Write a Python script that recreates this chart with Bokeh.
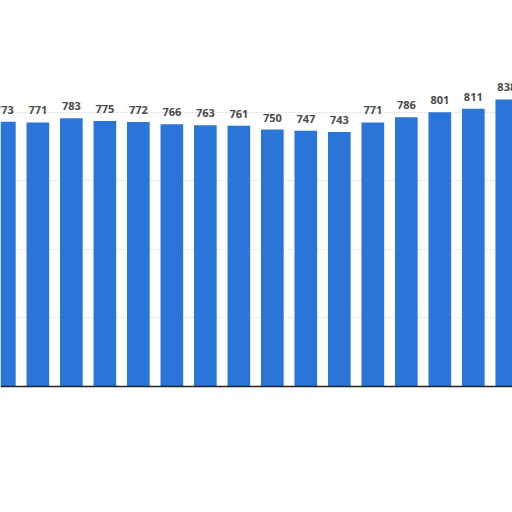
from bokeh.plotting import figure
from bokeh.models import ColumnDataSource, Range1d, FixedTicker, Span
from bokeh.core.properties import value
from bokeh.embed import file_html
from bokeh.resources import INLINE

values = [773, 771, 783, 775, 772, 766, 763, 761, 750, 747, 743, 771, 786, 801, 811, 838]
labels = [str(v) for v in values]
grid_ticks = [200, 400, 600, 800]
idx = list(range(len(values)))

src = ColumnDataSource(dict(x=idx, top=values, label=labels))

p = figure(width=512, height=512, output_backend="svg", toolbar_location=None,
           x_range=Range1d(-0.115, 15.17), y_range=Range1d(-368, 1127),
           min_border=0, min_border_left=0, min_border_right=0,
           min_border_top=0, min_border_bottom=0)
p.xaxis.visible = False
p.yaxis.visible = False
p.xgrid.visible = False
p.ygrid.ticker = FixedTicker(ticks=grid_ticks)
p.ygrid.grid_line_color = "#c8c8c8"
p.ygrid.grid_line_dash = "1 2"
p.ygrid.grid_line_width = 1
p.outline_line_color = None
p.background_fill_color = "white"
p.border_fill_color = "white"

p.vbar(x="x", top="top", bottom=0, width=0.677, source=src,
       fill_color="#2b74d8", line_color=None)

p.add_layout(Span(location=0, dimension="width", line_color="#222222", line_width=1.5))

p.text(x="x", y="top", text="label", source=src,
       text_align="center", text_baseline="bottom", y_offset=-8,
       text_font=value("Open Sans"), text_font_style="bold",
       text_font_size="11px", text_color="#4a4a4a")

open("out.html", "w").write(file_html(p, INLINE))
